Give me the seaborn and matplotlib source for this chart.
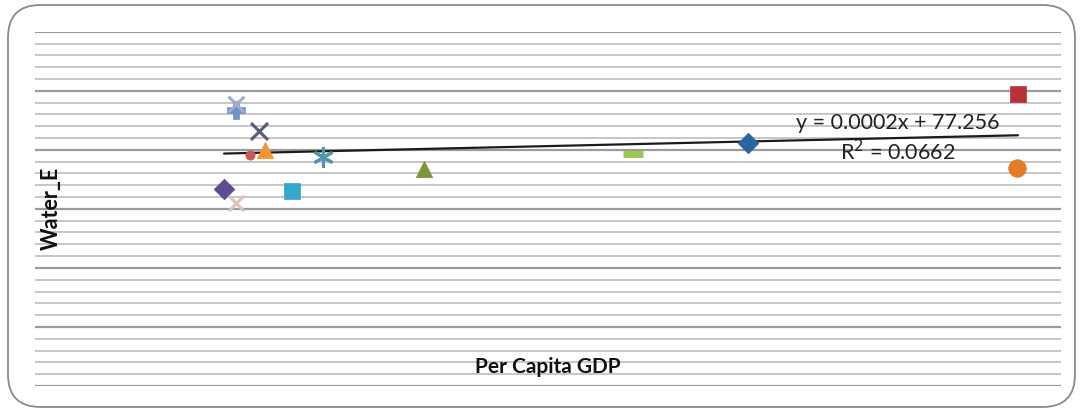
import numpy as np
import pandas as pd
import seaborn as sns
import matplotlib
matplotlib.use("Agg")
import matplotlib.pyplot as plt
from matplotlib.patches import FancyBboxPatch

# Per capita GDP (x) and Water_E (y) for each country series
gdp = [7370, 7840, 7840, 7840, 8380, 8730, 8970, 10020, 11230, 15170, 23310, 27800, 38320, 38290]
water = [66.7, 93.5, 95.5, 62.0, 78.2, 86.4, 79.9, 66.0, 77.6, 73.5, 78.6, 82.3, 98.9, 73.8]
series = ["S14", "S7", "S10", "S16", "S8", "S4", "S12", "S11", "S5", "S3", "S9", "S1", "S2", "S6"]
markers = ["D", "P", "x", "x", "o", "x", "^", "s", (6, 2, 0), "^", "_", "D", "s", "o"]
colors = ["#5E4C8E", "#6F93C4", "#A3ADCB", "#DCC3BE", "#C85A55", "#5B5B78", "#F39532",
          "#33A8CA", "#4E97AB", "#7A9638", "#9CC750", "#2D62A3", "#B8323A", "#E47B26"]
sizes = [110, 150, 130, 120, 45, 150, 140, 140, 170, 140, 190, 110, 140, 160]

# Linear trend reported on the chart
slope, intercept = 0.0002, 77.256
r_squared = 0.0662

df = pd.DataFrame({"gdp": gdp, "water": water, "series": series})

sns.set_theme(style="white")
plt.rcParams["font.family"] = ["Lato", "DejaVu Sans"]

fig = plt.figure(figsize=(10.82, 4.12), dpi=100)
fig.patch.set_facecolor("white")

# rounded chart-area frame
frame = FancyBboxPatch((8 / 1082, 5 / 412), 1067 / 1082, 402 / 412,
                       boxstyle="round,pad=0,rounding_size=0.03",
                       transform=fig.transFigure, facecolor="none",
                       edgecolor="#8a8a8a", linewidth=1.3, mutation_aspect=1082 / 412)
fig.patches.append(frame)

ax = fig.add_axes([35 / 1082, 1 - 386 / 412, 1026 / 1082, 354.3 / 412])
ax.set_xlim(0, 40000)
ax.set_ylim(0, 120)

# horizontal gridlines: minor every 4, major every 20
for v in np.arange(0, 121, 4):
    if v % 20 == 0:
        ax.axhline(v, color="#9b9b9b", linewidth=1.6, zorder=0)
    else:
        ax.axhline(v, color="#c6c6c6", linewidth=1.4, zorder=0)

# trendline over the data range
xt = np.array([min(gdp), max(gdp)])
sns.lineplot(x=xt, y=slope * xt + intercept, color="#1b1b1b", linewidth=1.6, ax=ax, zorder=2)

for i, row in df.iterrows():
    m = markers[i]
    line_art = m in ("x", "_") or isinstance(m, tuple)
    kw = dict(linewidth=2.2) if line_art else dict(edgecolor=colors[i], linewidth=0.5)
    if m == "_":
        kw = dict(linewidth=5)
    sns.scatterplot(x=[row.gdp], y=[row.water], marker=m, color=colors[i],
                    s=sizes[i], ax=ax, zorder=3, legend=False, **kw)

for s in ax.spines.values():
    s.set_visible(False)
ax.set_xticks([])
ax.set_yticks([])
ax.set_xlabel("")
ax.set_ylabel("")

fig.text(898 / 1082, 1 - 123 / 412, f"y = {slope}x + {intercept}",
         ha="center", va="center", fontsize=15.5, color="#222222")
fig.text(898 / 1082, 1 - 152 / 412, f"R$^2$ = {r_squared}",
         ha="center", va="center", fontsize=15.5, color="#222222")

fig.text(51 / 1082, 1 - 208 / 412, "Water_E", rotation=90, ha="center", va="center",
         fontsize=15.5, fontweight="bold", color="#111111")
fig.text(548 / 1082, 1 - 367 / 412, "Per Capita GDP", ha="center", va="center",
         fontsize=15, fontweight="bold", color="#111111")

fig.savefig("out.png", dpi=100, facecolor="white")
